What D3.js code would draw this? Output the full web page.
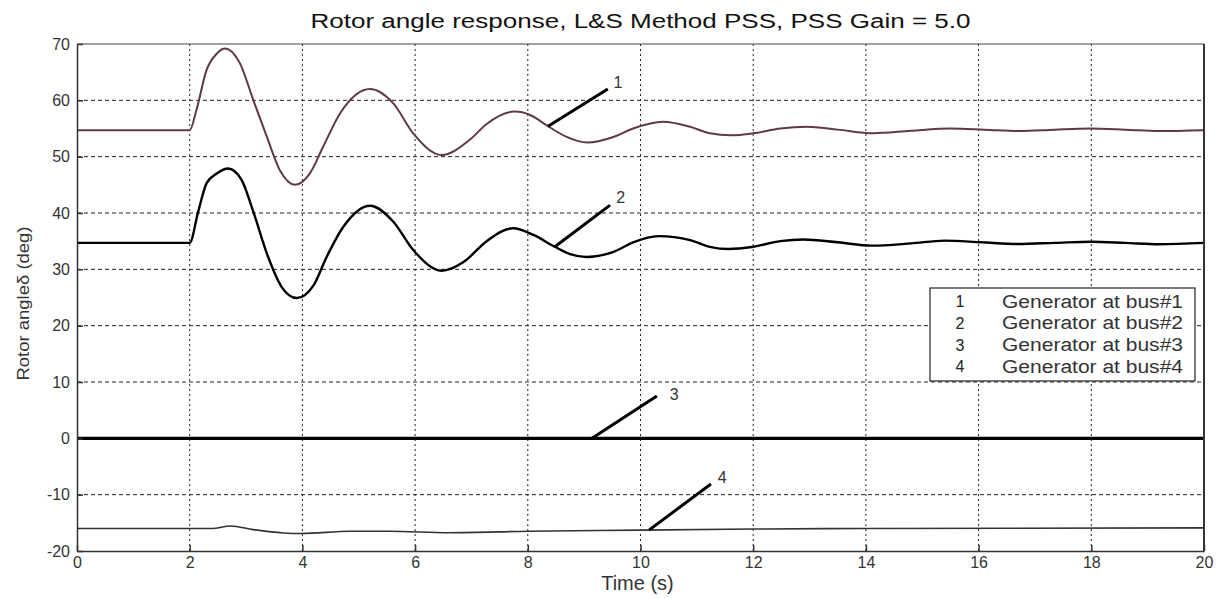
<!DOCTYPE html>
<html>
<head>
<meta charset="utf-8">
<script src="https://cdn.jsdelivr.net/npm/d3@7"></script>
<style>
  html, body { margin: 0; padding: 0; background: #fff; }
  svg { display: block; font-family: "Liberation Sans", Arial, sans-serif; }
</style>
</head>
<body>
<svg id="chart" width="1217" height="598"></svg>
<script>
// ---- data ----
const chartTitle = "Rotor angle response, L&S Method PSS, PSS Gain = 5.0";
const xLabel = "Time (s)";
const yLabel = "Rotor angle\u03B4 (deg)";
const xTicks = [0, 2, 4, 6, 8, 10, 12, 14, 16, 18, 20];
const yTicks = [-20, -10, 0, 10, 20, 30, 40, 50, 60, 70];

const time1 = [0, 2, 2.12, 2.3, 2.48, 2.63, 2.89, 3.13, 3.37, 3.6, 3.87, 4.13, 4.37, 4.67, 5.2, 5.61, 5.97, 6.47, 6.97, 7.27, 7.77, 8.04, 8.36, 8.69, 9.05, 9.52, 9.87, 10.4, 10.88, 11.23, 11.6, 12.0, 12.48, 12.95, 13.5, 14.13, 14.8, 15.5, 16.1, 16.73, 17.35, 17.98, 18.6, 19.2, 20];
const gen1  = [54.7, 54.7, 58.3, 65.4, 68.3, 69.2, 66.6, 60.0, 53.5, 47.6, 45.0, 47.0, 51.8, 57.7, 62.0, 59.5, 54.1, 50.3, 53.0, 55.8, 58.0, 57.4, 55.4, 53.5, 52.5, 53.5, 55.0, 56.2, 55.3, 54.15, 53.8, 54.15, 55.0, 55.3, 54.8, 54.15, 54.6, 55.0, 54.8, 54.55, 54.8, 55.0, 54.8, 54.55, 54.7];

const time2 = [0, 2, 2.15, 2.3, 2.48, 2.68, 2.92, 3.13, 3.37, 3.63, 3.9, 4.2, 4.43, 4.73, 5.2, 5.61, 5.97, 6.47, 6.86, 7.27, 7.74, 8.1, 8.48, 8.75, 9.04, 9.52, 9.87, 10.32, 10.88, 11.23, 11.56, 12.0, 12.48, 12.89, 13.5, 14.1, 14.8, 15.4, 16.05, 16.7, 17.35, 18.0, 18.6, 19.2, 20];
const gen2  = [34.7, 34.7, 40.2, 45.3, 47.0, 47.9, 45.9, 40.2, 32.8, 26.9, 24.9, 27.2, 32.2, 37.6, 41.3, 38.5, 33.4, 29.75, 31.3, 35.0, 37.3, 36.1, 34.0, 32.7, 32.2, 33.1, 34.8, 35.9, 35.2, 34.0, 33.6, 34.0, 35.0, 35.3, 34.8, 34.2, 34.6, 35.1, 34.8, 34.5, 34.7, 34.9, 34.7, 34.45, 34.7];

const time3 = [0, 20];
const gen3  = [0, 0];

const time4 = [0, 2.4, 2.72, 3.13, 3.66, 3.98, 4.85, 5.55, 6.6, 8, 10, 12, 14, 20];
const gen4  = [-16.0, -16.0, -15.55, -16.2, -16.8, -16.9, -16.5, -16.5, -16.75, -16.5, -16.3, -16.1, -16.0, -15.9];

const seriesNames = ["Generator at bus#1", "Generator at bus#2", "Generator at bus#3", "Generator at bus#4"];
const seriesIds = ["1", "2", "3", "4"];

// annotation leader lines (data coords)
const annoT0 = [8.36, 8.48, 9.14, 10.15];
const annoV0 = [55.4, 34.0, 0.0, -16.3];
const annoT1 = [9.42, 9.46, 10.29, 11.25];
const annoV1 = [62.0, 41.4, 7.5, -8.1];
const annoLabelT = [9.6, 9.65, 10.6, 11.45];
const annoLabelV = [62.9, 42.5, 7.6, -7.2];

// ---- layout ----
const svg = d3.select("#chart");
const L = 77, T = 44, R = 1204, B = 551;
const x = d3.scaleLinear().domain([0, 20]).range([L, R]);
const y = d3.scaleLinear().domain([-20, 70]).range([B, T]);

// grid
const grid = svg.append("g");
grid.selectAll("line.vg").data(xTicks.slice(1, -1)).enter().append("line")
  .attr("x1", d => x(d)).attr("x2", d => x(d)).attr("y1", T).attr("y2", B)
  .attr("stroke", "#222").attr("stroke-width", 1).attr("stroke-dasharray", "2,3");
grid.selectAll("line.hg").data(yTicks.slice(1, -1)).enter().append("line")
  .attr("y1", d => y(d)).attr("y2", d => y(d)).attr("x1", L).attr("x2", R)
  .attr("stroke", "#222").attr("stroke-width", 1).attr("stroke-dasharray", "4,3");

// series
const series = [
  {t: time1, v: gen1, color: "#5e3a41", w: 2},
  {t: time2, v: gen2, color: "#000", w: 2.4},
  {t: time3, v: gen3, color: "#000", w: 3.2},
  {t: time4, v: gen4, color: "#333", w: 1.6}
];
const line = d3.line().x(d => x(d[0])).y(d => y(d[1])).curve(d3.curveMonotoneX);
series.forEach(s => {
  svg.append("path")
    .datum(s.t.map((tt, i) => [tt, s.v[i]]))
    .attr("d", line).attr("fill", "none")
    .attr("stroke", s.color).attr("stroke-width", s.w)
    .attr("stroke-linejoin", "round");
});

// axes
const fmt = d => String(d);
const xAxis = d3.axisBottom(x).tickValues(xTicks).tickFormat(fmt).tickSizeInner(-6).tickSizeOuter(0).tickPadding(6);
const yAxis = d3.axisLeft(y).tickValues(yTicks).tickFormat(fmt).tickSizeInner(-6).tickSizeOuter(0).tickPadding(13);
const gx = svg.append("g").attr("transform", `translate(0,${B})`).call(xAxis);
const gy = svg.append("g").attr("transform", `translate(${L},0)`).call(yAxis);
[gx, gy].forEach(g => {
  g.select(".domain").attr("stroke", "#333").attr("stroke-width", 1.5);
  g.selectAll(".tick line").attr("stroke", "#333").attr("stroke-width", 1.5);
  g.selectAll(".tick text").attr("font-size", 16).attr("fill", "#333")
    .attr("font-family", "Liberation Sans, Arial, sans-serif");
});
gy.selectAll(".tick text").attr("dx", 6);
// top and right borders
svg.append("line").attr("x1", L).attr("x2", R).attr("y1", T).attr("y2", T).attr("stroke", "#444").attr("stroke-width", 1.2);
svg.append("line").attr("x1", R).attr("x2", R).attr("y1", T).attr("y2", B).attr("stroke", "#333").attr("stroke-width", 2);

// annotations
annoT0.forEach((t0, i) => {
  svg.append("line")
    .attr("x1", x(t0)).attr("y1", y(annoV0[i]))
    .attr("x2", x(annoT1[i])).attr("y2", y(annoV1[i]))
    .attr("stroke", "#000").attr("stroke-width", 3);
  svg.append("text")
    .attr("x", x(annoLabelT[i])).attr("y", y(annoLabelV[i]))
    .attr("font-size", 16).attr("fill", "#333")
    .attr("text-anchor", "middle").attr("dominant-baseline", "middle")
    .text(seriesIds[i]);
});

// legend
const lg = svg.append("g");
lg.append("rect").attr("x", 930).attr("y", 288).attr("width", 265).attr("height", 93)
  .attr("fill", "#fff").attr("stroke", "#222").attr("stroke-width", 1.2);
seriesNames.forEach((name, i) => {
  const cy = 303 + i * 21.7;
  lg.append("text").attr("x", 960).attr("y", cy).attr("text-anchor", "middle")
    .attr("dominant-baseline", "middle").attr("font-size", 16).attr("fill", "#222")
    .text(seriesIds[i]);
  lg.append("text").attr("x", 1002).attr("y", cy)
    .attr("dominant-baseline", "middle").attr("font-size", 18).attr("fill", "#333")
    .attr("textLength", 181).attr("lengthAdjust", "spacingAndGlyphs")
    .text(name);
});

// title & labels
svg.append("text").attr("x", (L + R) / 2).attr("y", 28).attr("text-anchor", "middle")
  .attr("font-size", 20).attr("fill", "#111")
  .attr("textLength", 660).attr("lengthAdjust", "spacingAndGlyphs").text(chartTitle);
svg.append("text").attr("x", (L + R) / 2 - 3).attr("y", 590).attr("text-anchor", "middle")
  .attr("font-size", 20).attr("fill", "#333").text(xLabel);
svg.append("text").attr("transform", `translate(25,${(T + B) / 2 + 6}) rotate(-90)`)
  .attr("text-anchor", "middle").attr("dominant-baseline", "middle")
  .attr("font-size", 17).attr("fill", "#333")
  .attr("textLength", 154).attr("lengthAdjust", "spacingAndGlyphs").text(yLabel);
</script>
</body>
</html>
